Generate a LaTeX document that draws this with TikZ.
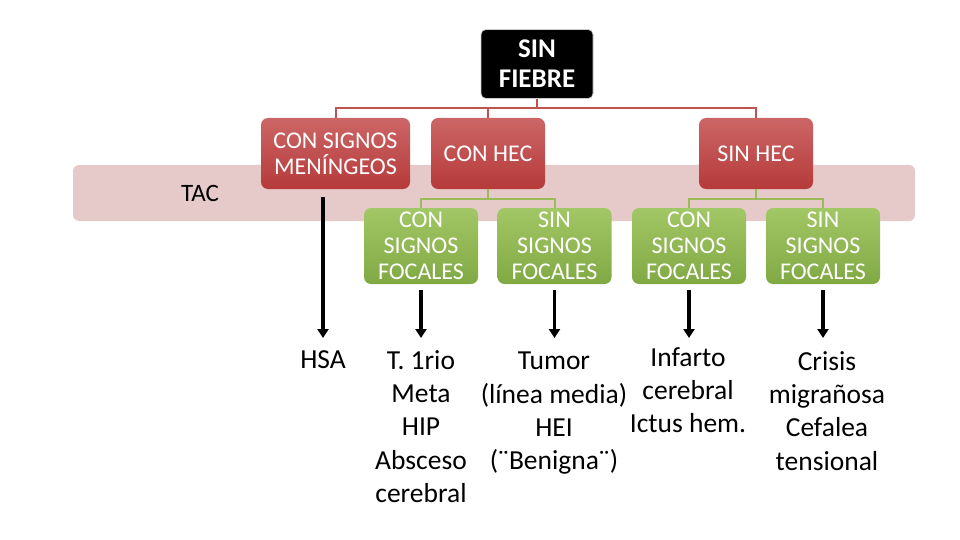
\documentclass[tikz,border=0pt]{standalone}
\usepackage{fontspec}
\setmainfont{Carlito}
\usetikzlibrary{arrows.meta}
\definecolor{redtop}{HTML}{CC6666}
\definecolor{redbot}{HTML}{B63A3A}
\definecolor{redlink}{HTML}{BE5450}
\definecolor{greentop}{HTML}{A2C766}
\definecolor{greenbot}{HTML}{80A944}
\definecolor{greenlink}{HTML}{9BBB59}
\definecolor{tacband}{HTML}{E6CACA}
\begin{document}
\begin{tikzpicture}[x=1pt,y=-1pt,
    rootbox/.style={rounded corners=5pt,fill=black,draw=white!80!black,line width=0.6pt,
      text=white,align=center,font=\fontsize{27}{30}\selectfont\bfseries,
      minimum width=112pt,minimum height=69pt,inner sep=0pt},
    redbox/.style={rounded corners=7pt,top color=redtop,bottom color=redbot,
      text=white,align=center,font=\fontsize{24}{26}\selectfont,
      minimum height=71pt,inner sep=0pt},
    greenbox/.style={rounded corners=7pt,top color=greentop,bottom color=greenbot,
      text=white,align=center,font=\fontsize{24}{26}\selectfont,
      minimum width=114pt,minimum height=76pt,inner sep=0pt},
    redline/.style={draw=redlink,line width=2pt},
    greenline/.style={draw=greenlink,line width=2pt},
    arrow/.style={-{Triangle[length=9pt,width=11pt]},line width=3.5pt},
    result/.style={font=\fontsize{27.5}{33.3}\selectfont,align=center,anchor=north,inner sep=0pt}]
  \useasboundingbox (0,0) rectangle (960,540);
  % TAC band
  \fill[tacband,rounded corners=6pt] (73,165) rectangle (915,221);
  \node[font=\fontsize{25}{28}\selectfont] (tac) at (200,193) {TAC};
  % boxes
  \node[rootbox] (root) at (537,64) {SIN\\FIEBRE};
  \node[redbox,minimum width=149pt] (men) at (335.5,153.5) {CON SIGNOS\\MENÍNGEOS};
  \node[redbox,minimum width=114pt] (conhec) at (488,153.5) {CON HEC};
  \node[redbox,minimum width=114pt] (sinhec) at (756,153.5) {SIN HEC};
  \node[greenbox] (g1) at (421,246) {CON\\SIGNOS\\FOCALES};
  \node[greenbox] (g2) at (554.5,246) {SIN\\SIGNOS\\FOCALES};
  \node[greenbox] (g3) at (689,246) {CON\\SIGNOS\\FOCALES};
  \node[greenbox] (g4) at (823,246) {SIN\\SIGNOS\\FOCALES};
  % connectors
  \draw[redline] (root.south) -- ++(0,9) coordinate (rfork);
  \draw[redline] (rfork) -| (men.north);
  \draw[redline] (rfork) -| (conhec.north);
  \draw[redline] (rfork) -| (sinhec.north);
  \draw[greenline] (conhec.south) -- ++(0,10) coordinate (lfork);
  \draw[greenline] (lfork) -| (g1.north);
  \draw[greenline] (lfork) -| (g2.north);
  \draw[greenline] (sinhec.south) -- ++(0,10) coordinate (sfork);
  \draw[greenline] (sfork) -| (g3.north);
  \draw[greenline] (sfork) -| (g4.north);
  % results
  \node[result] (hsa) at (323,350) {HSA};
  \node[result] (trio) at (421,350) {T. 1rio\\Meta\\HIP\\Absceso\\cerebral};
  \node[result] (tumor) at (554,352) {Tumor\\(línea media)\\HEI\\(¨Benigna¨)};
  \node[result] (infarto) at (688,347) {Infarto\\cerebral\\Ictus hem.};
  \node[result] (crisis) at (827,351) {Crisis\\migrañosa\\Cefalea\\tensional};
  \draw[arrow,shorten <=8pt,shorten >=12pt] (hsa.north |- men.south) -- (hsa.north);
  \draw[arrow,shorten <=6pt,shorten >=12pt] (g1.south) -- (g1.south |- trio.north);
  \draw[arrow,shorten <=6pt,shorten >=14pt] (g2.south) -- (g2.south |- tumor.north);
  \draw[arrow,shorten <=6pt,shorten >=9pt] (g3.south) -- (g3.south |- infarto.north);
  \draw[arrow,shorten <=6pt,shorten >=13pt] (g4.south) -- (g4.south |- crisis.north);
\end{tikzpicture}
\end{document}
